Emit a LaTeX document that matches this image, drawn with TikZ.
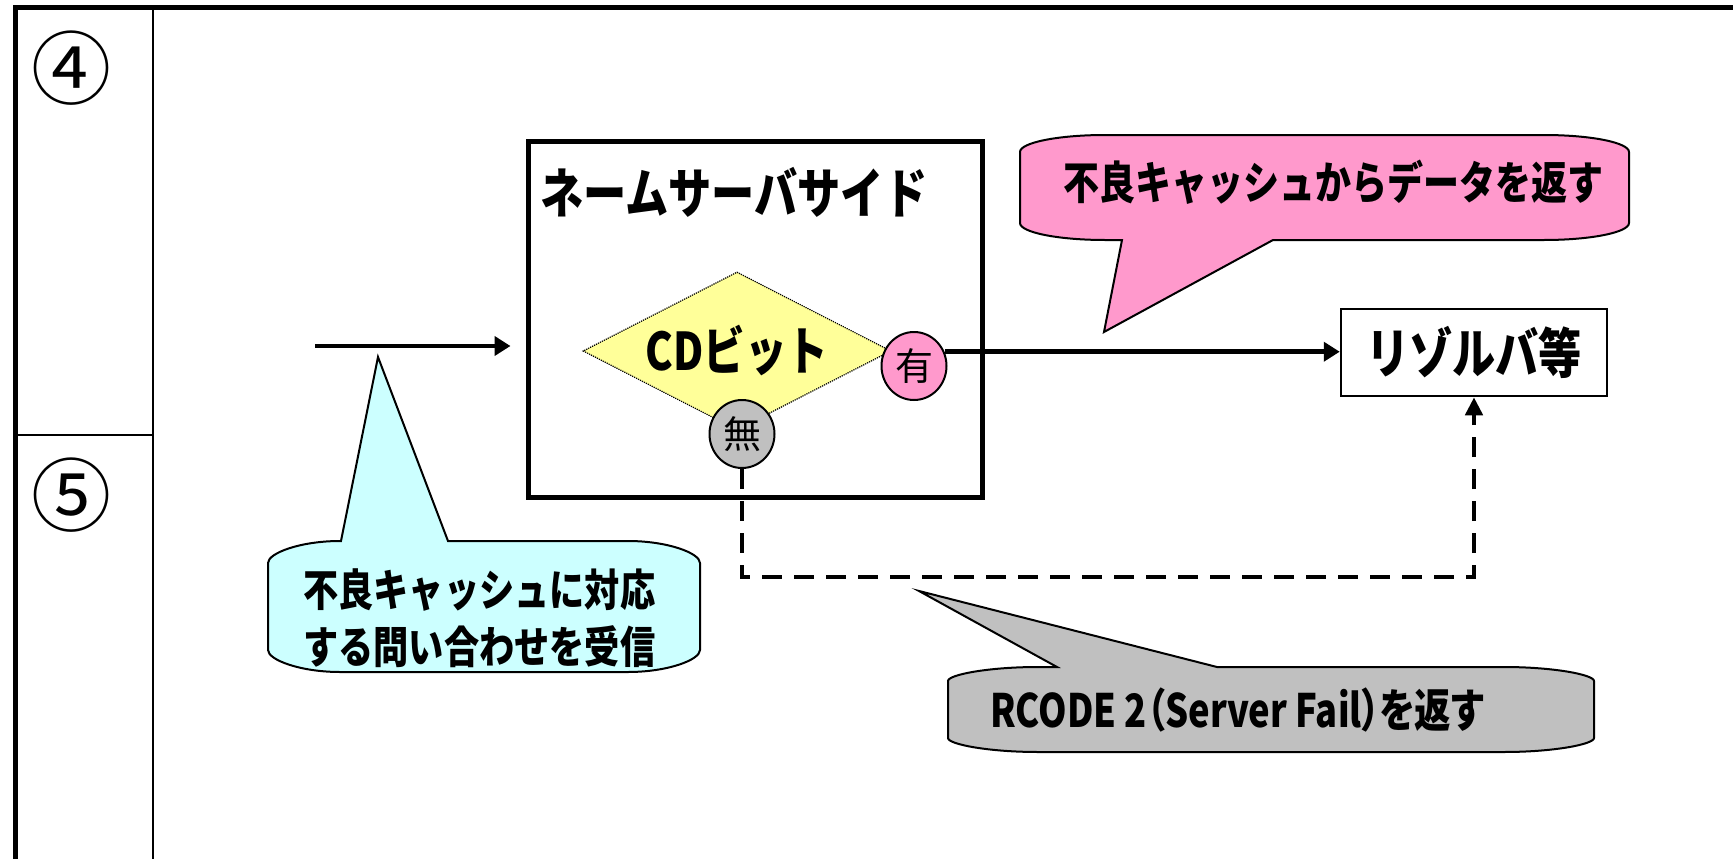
\documentclass[tikz,border=0pt]{standalone}
\usepackage{fontspec}
\setmainfont{Noto Sans CJK JP}
\newfontfamily\jptall{Noto Sans CJK JP}[FakeStretch=0.8]
\newfontfamily\jpcond{Noto Sans CJK JP}[FakeStretch=0.79, RawFeature=+palt]
\usetikzlibrary{arrows.meta,shapes.geometric}

\definecolor{callpink}{HTML}{FF99CC}
\definecolor{callcyan}{HTML}{CCFFFF}
\definecolor{callgray}{HTML}{C0C0C0}
\definecolor{cdyellow}{HTML}{FFFF99}

\tikzset{
  frameline/.style={line width=5pt},
  thinrule/.style={line width=2.5pt},
  bubble/.style={draw=black, line width=2pt},
  flow/.style={line width=4.5pt, -{Triangle[length=16pt,width=19pt]}},
  failflow/.style={line width=4.5pt, dash pattern=on 20pt off 12pt,
                   -{Triangle[length=18pt,width=17pt]}},
  flag/.style={ellipse, draw, line width=2pt, minimum width=65pt,
               minimum height=68pt, inner sep=0pt,
               font=\fontsize{38}{38}\selectfont},
  bubbletext/.style={anchor=west, inner sep=0pt},
  rowlabel/.style={inner sep=0pt, font=\fontsize{80}{80}\selectfont},
}

\begin{document}
\begin{tikzpicture}[x=1pt, y=-1pt]
\useasboundingbox (0,0) rectangle (1733,859);

% table frame and row labels
\draw[frameline] (1733,8) -- (15,8) -- (15,859);
\draw[thinrule] (153,8) -- (153,859);
\draw[thinrule] (15,435) -- (153,435);
\node[rowlabel] (four) at (71,68) {④};
\node[rowlabel] (five) at (71,495) {⑤};

% name server box
\node[draw, line width=5pt, minimum width=454pt, minimum height=356pt,
      inner sep=0pt] (ns) at (755,319) {};
\node[anchor=west, inner sep=0pt, font=\bfseries\jptall\fontsize{54}{54}\selectfont]
      (nstitle) at (540,192) {ネームサーバサイド};

% CD bit decision
\node[diamond, aspect=1.95, draw, densely dotted, line width=1.2pt, fill=cdyellow,
      minimum width=308pt, minimum height=158pt, inner sep=0pt,
      font=\bfseries\jptall\fontsize{52}{52}\selectfont] (cd) at (737,351) {CDビット};
\node[flag, fill=callpink] (yu) at (914,366) {有};
\node[flag, fill=callgray] (nashi) at (742,434) {無};

% resolver
\node[draw, line width=2.5pt, minimum width=266pt, minimum height=87pt,
      inner sep=0pt, font=\bfseries\jptall\fontsize{54}{54}\selectfont]
      (res) at (1474,352.5) {リゾルバ等};

% connectors
\coordinate (qin) at (315,346);
\draw[flow] (qin) -- ([xshift=-15pt]ns.west |- qin);
\draw[flow] (yu.25) -- (yu.25 -| res.west);
\coordinate (failturn) at (742,577);
\draw[failflow] (nashi.south) -- (failturn) -| (res.south);

% callout: query received
\draw[bubble, fill=callcyan]
  (268,563) .. controls (268,553.1) and (300.4,541) .. (340,541)
  -- (341,541) -- (378,357) -- (448,541) -- (628,541)
  .. controls (667.6,541) and (700,553.1) .. (700,563)
  -- (700,650)
  .. controls (700,659.9) and (667.6,672) .. (628,672)
  -- (340,672)
  .. controls (300.4,672) and (268,659.9) .. (268,650) -- cycle;
\node[bubbletext, align=left, font=\bfseries\jptall\fontsize{44}{57}\selectfont]
  (qtext) at (303,618) {不良キャッシュに対応\\する問い合わせを受信};

% callout: data returned from the bad cache
\draw[bubble, fill=callpink]
  (1020,152) .. controls (1020,142.6) and (1058.2,135) .. (1105,135)
  -- (1544,135)
  .. controls (1590.8,135) and (1629,142.6) .. (1629,152)
  -- (1629,223)
  .. controls (1629,232.4) and (1590.8,240) .. (1544,240)
  -- (1273,240) -- (1104,332) -- (1122,240) -- (1105,240)
  .. controls (1058.2,240) and (1020,232.4) .. (1020,223) -- cycle;
\node[bubbletext, font=\bfseries\jptall\fontsize{45}{45}\selectfont]
  (ptext) at (1063,182) {不良キャッシュからデータを返す};

% callout: server failure
\draw[bubble, fill=callgray]
  (948,681) .. controls (948,674.7) and (988.5,667) .. (1038,667)
  -- (1057,667) -- (919,591) -- (1217,667) -- (1504,667)
  .. controls (1553.5,667) and (1594,674.7) .. (1594,681)
  -- (1594,738)
  .. controls (1594,744.3) and (1553.5,752) .. (1504,752)
  -- (1038,752)
  .. controls (988.5,752) and (948,744.3) .. (948,738) -- cycle;
\node[bubbletext, font=\bfseries\jpcond\fontsize{46}{46}\selectfont]
  (gtext) at (990,710) {RCODE 2（Server Fail）を返す};
\end{tikzpicture}
\end{document}
